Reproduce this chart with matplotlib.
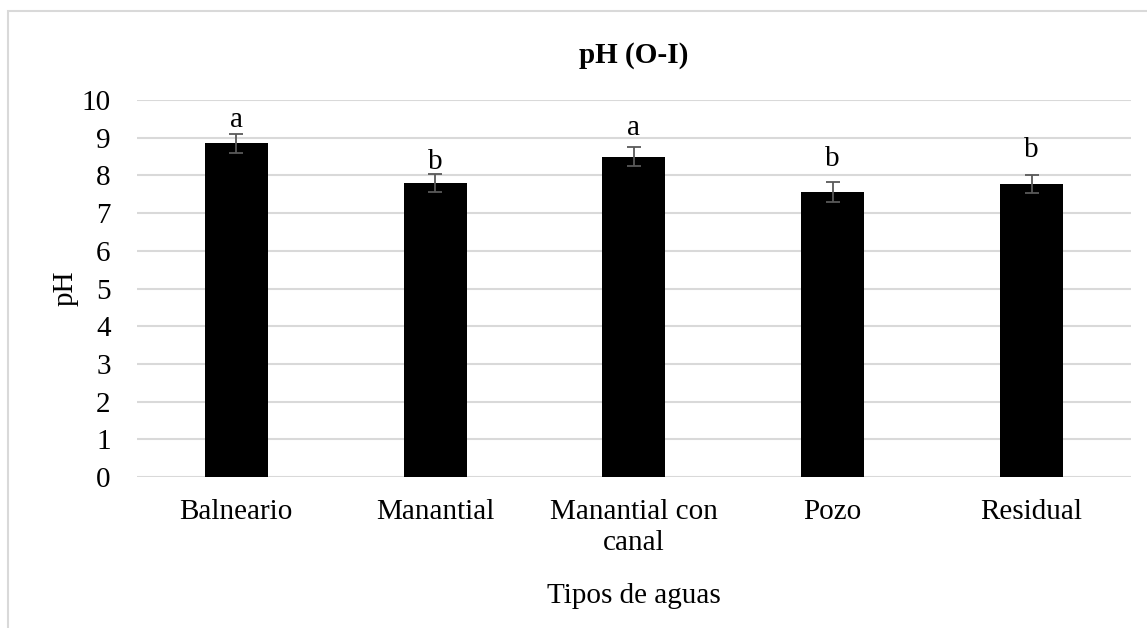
import matplotlib
matplotlib.use("Agg")
import matplotlib.pyplot as plt
from matplotlib.patches import Rectangle

plt.rcParams["font.family"] = ["Liberation Serif", "DejaVu Serif"]

# data
categories = ["Balneario", "Manantial", "Manantial con\ncanal", "Pozo", "Residual"]
ph_values = [8.85, 7.80, 8.50, 7.56, 7.77]
ph_errors = [0.25, 0.25, 0.25, 0.26, 0.25]
letters = ["a", "b", "a", "b", "b"]
letter_y = [9.29, 8.17, 9.07, 8.26, 8.50]

fig = plt.figure(figsize=(11.47, 6.28), dpi=100)
ax = fig.add_axes([0.1194, 0.2404, 0.8666, 0.6004])

# light outer frame
fig.patches.append(Rectangle((8 / 1147, -0.05), 1.1, 1 - 11 / 628 + 0.05,
                             transform=fig.transFigure, fill=False,
                             edgecolor="#d9d9d9", linewidth=1.5, zorder=0))

x = range(len(categories))
ax.bar(x, ph_values, width=0.317, color="black", zorder=2)
ax.errorbar(x, ph_values, yerr=ph_errors, fmt="none", ecolor="#595959",
            elinewidth=1.3, capsize=5, capthick=1.3, zorder=3)

for i, (lab, ly) in enumerate(zip(letters, letter_y)):
    ax.text(i, ly, lab, ha="center", va="baseline", fontsize=21)

ax.set_xlim(-0.5, len(categories) - 0.5)
ax.set_ylim(0, 10)
ax.set_yticks(range(0, 11))
ax.set_xticks(list(x))
ax.set_xticklabels(categories, fontsize=21, linespacing=1.25)
ax.tick_params(axis="y", labelsize=21, length=0, pad=19)
ax.tick_params(axis="x", length=0, pad=16)

ax.grid(axis="y", color="#d9d9d9", linewidth=1.5, zorder=0)
ax.set_axisbelow(True)
for s in ax.spines.values():
    s.set_visible(False)

ax.set_title("pH (O-I)", fontsize=21, fontweight="bold", pad=27)
ax.set_ylabel("pH", fontsize=21, labelpad=2)
ax.set_xlabel("Tipos de aguas", fontsize=21, labelpad=19)

fig.savefig("out.png", dpi=100)
